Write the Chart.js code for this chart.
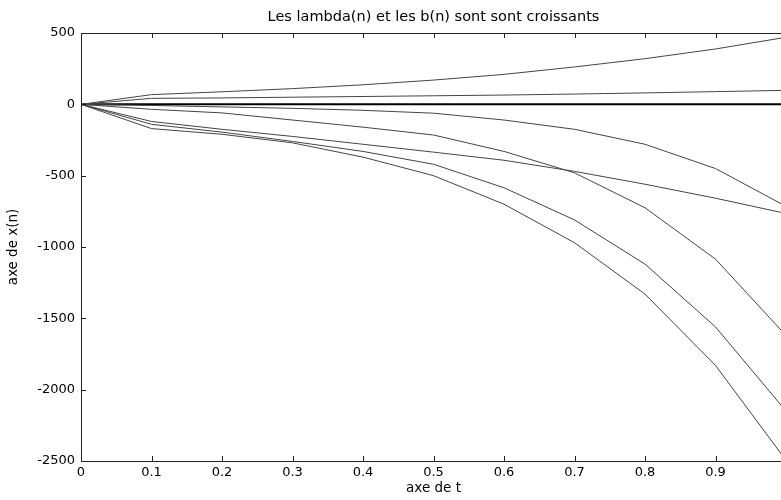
<!DOCTYPE html>
<html>
<head>
<meta charset="utf-8">
<script src="https://cdn.jsdelivr.net/npm/chart.js@4.4.1/dist/chart.umd.min.js"></script>
<style>
  html, body { margin: 0; padding: 0; background: #fff; overflow: hidden; }
  #wrap { width: 790px; height: 500px; }
</style>
</head>
<body>
<div id="wrap"><canvas id="chart" width="790" height="500"></canvas></div>
<script>
// t = 0 .. 1, step 0.1
const tValues = [0, 0.1, 0.2, 0.3, 0.4, 0.5, 0.6, 0.7, 0.8, 0.9, 1];

// x(n) for each n
const xTop    = [0, 68, 88, 110, 137, 170, 210, 262, 320, 388, 470];
const xSecond = [0, 42, 45, 50, 55, 60, 65, 72, 80, 89, 98];
const xZero   = [0, 0, 0, 0, 0, 0, 0, 0, 0, 0, 0];
const xA      = [0, -8, -18, -28, -42, -62, -110, -175, -280, -450, -715];
const xB      = [0, -35, -60, -110, -160, -215, -330, -480, -725, -1085, -1620];
const xF      = [0, -120, -175, -225, -280, -335, -392, -470, -560, -658, -765];
const xD      = [0, -140, -195, -260, -330, -420, -585, -810, -1120, -1560, -2150];
const xE      = [0, -170, -210, -270, -370, -500, -700, -970, -1330, -1830, -2495];

const xTicks = [0, 0.1, 0.2, 0.3, 0.4, 0.5, 0.6, 0.7, 0.8, 0.9];
const yTicks = [-2500, -2000, -1500, -1000, -500, 0, 500];

const FONT = "'DejaVu Sans', Arial, Helvetica, sans-serif";

function series(values, width, color) {
    return {
        data: values.map((v, i) => ({ x: tValues[i], y: v })),
        borderColor: color,
        borderWidth: width,
        pointRadius: 0,
        showLine: true,
        fill: false,
        tension: 0
    };
}

// MATLAB-like box with inward tick marks on all four sides
const boxTicks = {
    id: 'boxTicks',
    afterDraw(chart) {
        const { ctx, chartArea: a, scales: { x, y } } = chart;
        const len = 5;
        ctx.save();
        ctx.strokeStyle = '#222';
        ctx.lineWidth = 1;
        ctx.beginPath();
        ctx.rect(Math.round(a.left) + 0.5, Math.round(a.top) + 0.5,
                 Math.round(a.right - a.left), Math.round(a.bottom - a.top));
        x.ticks.forEach(t => {
            const px = Math.round(x.getPixelForValue(t.value)) + 0.5;
            ctx.moveTo(px, a.bottom); ctx.lineTo(px, a.bottom - len);
            ctx.moveTo(px, a.top); ctx.lineTo(px, a.top + len);
        });
        y.ticks.forEach(t => {
            const py = Math.round(y.getPixelForValue(t.value)) + 0.5;
            ctx.moveTo(a.left, py); ctx.lineTo(a.left + len, py);
            ctx.moveTo(a.right, py); ctx.lineTo(a.right - len, py);
        });
        ctx.stroke();
        ctx.restore();
    }
};

new Chart(document.getElementById('chart'), {
    type: 'scatter',
    data: {
        datasets: [
            series(xTop, 1, '#444'),
            series(xSecond, 1, '#444'),
            series(xA, 1, '#444'),
            series(xB, 1, '#444'),
            series(xF, 1, '#444'),
            series(xD, 1, '#444'),
            series(xE, 1, '#444'),
            series(xZero, 2, '#000')
        ]
    },
    options: {
        responsive: false,
        animation: false,
        layout: { padding: { left: 0, right: 4, top: 0, bottom: 0 } },
        plugins: {
            legend: { display: false },
            tooltip: { enabled: false },
            title: {
                display: true,
                fullSize: false,
                text: 'Les lambda(n) et les b(n) sont sont croissants',
                color: '#000',
                font: { family: FONT, size: 14.5, weight: 'normal' },
                padding: { top: 9, bottom: 6.6 }
            }
        },
        scales: {
            x: {
                type: 'linear',
                min: 0,
                max: 1,
                afterBuildTicks: s => { s.ticks = xTicks.map(v => ({ value: v })); },
                afterFit: s => { s.height = 39; },
                grid: { display: false, drawTicks: false },
                border: { display: false },
                ticks: {
                    color: '#000',
                    padding: 4,
                    maxRotation: 0,
                    autoSkip: false,
                    font: { family: FONT, size: 13 },
                    callback: v => String(v)
                },
                title: {
                    display: true,
                    text: 'axe de t',
                    color: '#000',
                    font: { family: FONT, size: 13.5 },
                    padding: { top: 0, bottom: 3 }
                }
            },
            y: {
                type: 'linear',
                min: -2500,
                max: 500,
                afterBuildTicks: s => { s.ticks = yTicks.map(v => ({ value: v })); },
                afterFit: s => { s.width = 81; },
                grid: { display: false, drawTicks: false },
                border: { display: false },
                ticks: {
                    color: '#000',
                    padding: 6,
                    autoSkip: false,
                    font: { family: FONT, size: 13 },
                    callback: v => String(v)
                },
                title: {
                    display: true,
                    text: 'axe de x(n)',
                    color: '#000',
                    font: { family: FONT, size: 13.5 },
                    padding: { top: 5, bottom: 0 }
                }
            }
        }
    },
    plugins: [boxTicks]
});
</script>
</body>
</html>
